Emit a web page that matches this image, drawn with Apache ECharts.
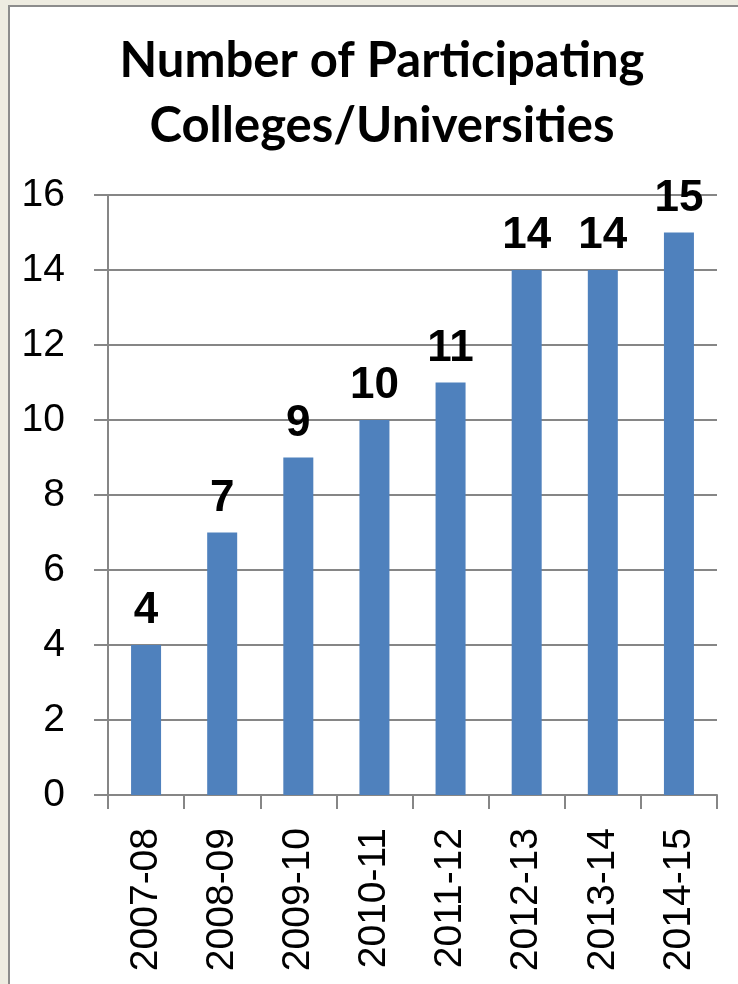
<!DOCTYPE html>
<html>
<head>
<meta charset="utf-8">
<script src="https://cdn.jsdelivr.net/npm/echarts@6/dist/echarts.min.js"></script>
<style>
html,body{margin:0;padding:0;background:#EEECE1;}
#frame{position:absolute;left:8px;top:5px;width:740px;height:990px;background:#fff;border:2px solid #8C8C8C;box-sizing:border-box;}
#chart{position:absolute;left:0;top:0;width:738px;height:984px;}
</style>
</head>
<body>
<div id="frame"></div>
<div id="chart"></div>
<script>
var categories = ['2007-08','2008-09','2009-10','2010-11','2011-12','2012-13','2013-14','2014-15'];
var values = [4, 7, 9, 10, 11, 14, 14, 15];
var titleText = 'Number of Participating\nColleges/Universities';

var chart = echarts.init(document.getElementById('chart'), null, {renderer:'canvas'});
chart.setOption({
  animation:false,
  backgroundColor:'transparent',
  title:{
    text:titleText,
    left:377, top:24, textAlign:'center',
    textStyle:{fontFamily:'Lato', fontWeight:'bold', fontSize:49, lineHeight:65, color:'#000'}
  },
  grid:{left:108, right:21, top:195, bottom:189, containLabel:false},
  xAxis:{
    type:'category', data:categories,
    axisLine:{lineStyle:{color:'#868686', width:2}},
    axisTick:{show:true, alignWithLabel:false, length:14, lineStyle:{color:'#868686', width:2}},
    axisLabel:{rotate:90, margin:33, fontFamily:'Liberation Sans', fontSize:39, color:'#000', interval:0}
  },
  yAxis:{
    type:'value', min:0, max:16, interval:2,
    axisLine:{show:true, lineStyle:{color:'#868686', width:2}},
    axisTick:{show:true, length:14, lineStyle:{color:'#868686', width:2}},
    splitLine:{lineStyle:{color:'#868686', width:2}},
    axisLabel:{margin:43, fontFamily:'Liberation Sans', fontSize:39, color:'#000'}
  },
  series:[{
    type:'bar', data:values, barWidth:30,
    itemStyle:{color:'#4F81BD'},
    label:{show:true, position:'top', distance:12, fontFamily:'Liberation Sans', fontWeight:'bold', fontSize:44, color:'#000'}
  }]
});
</script>
</body>
</html>
